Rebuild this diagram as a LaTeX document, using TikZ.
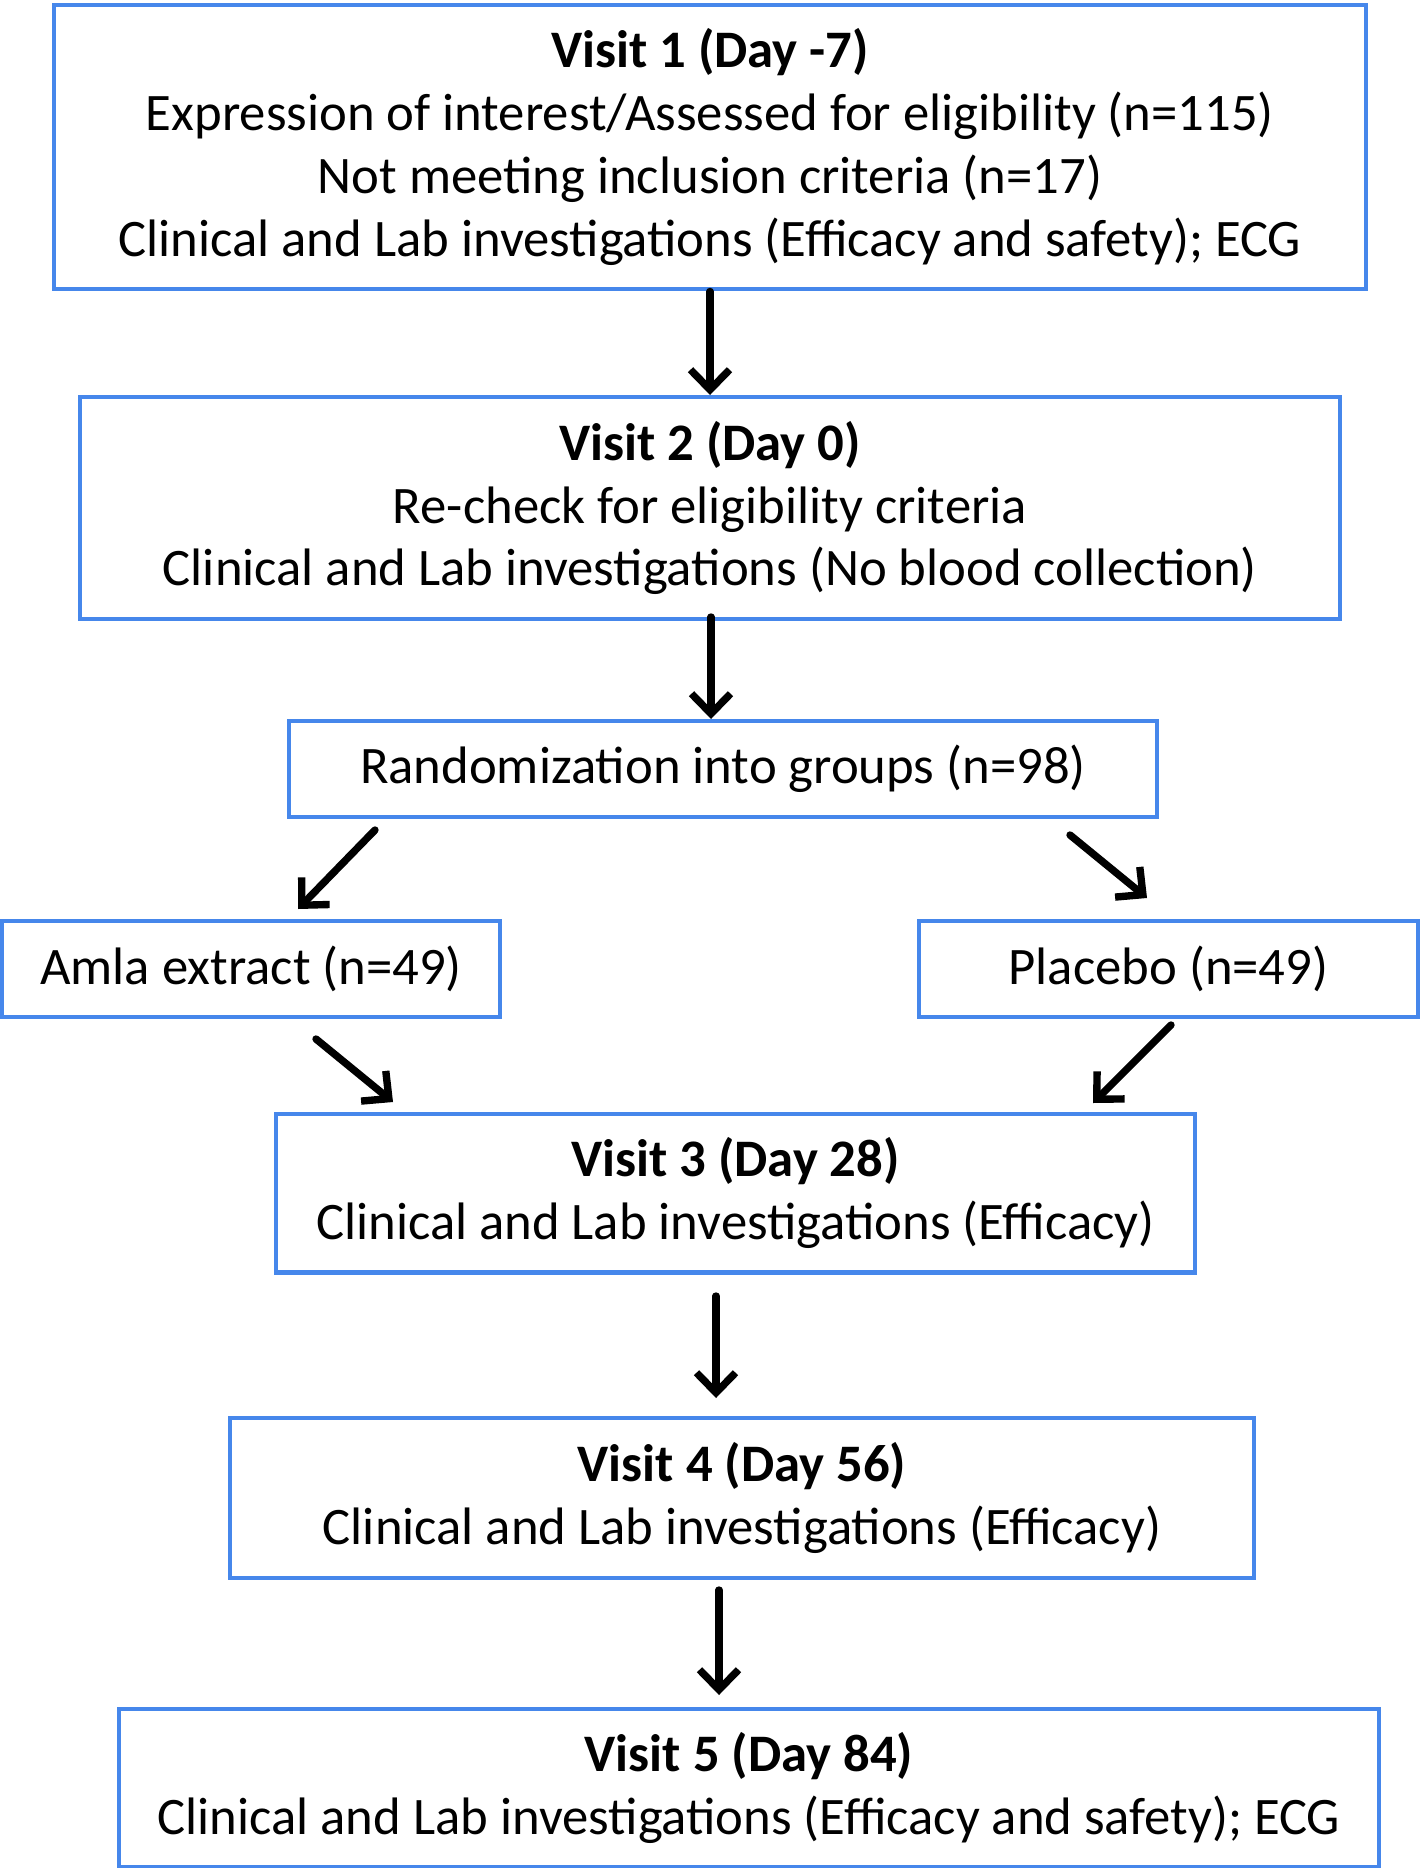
\documentclass[tikz,border=0pt]{standalone}
\usepackage{fontspec}
\setmainfont{Carlito}
\usetikzlibrary{arrows.meta}
\definecolor{boxblue}{RGB}{70,135,235}
\tikzset{
	box/.style={draw=boxblue, line width=2.3pt, inner sep=0pt, align=center, font=\fontsize{30}{35.7}\selectfont},
	arr/.style={-{Straight Barb[length=0.4cm, width=0.78cm]}, line width=4.2pt, line cap=round, line join=round}
}
\begin{document}
\begin{tikzpicture}[x=0.02cm,y=-0.02cm]
		\useasboundingbox (0,0) rectangle (1421,1868);
		
		\node[box, minimum width=26.24cm, minimum height=5.7cm] (v1) at (710,147) {\textbf{Visit 1 (Day -7)}\\Expression of interest/Assessed for eligibility (n=115)\\Not meeting inclusion criteria (n=17)\\Clinical and Lab investigations (Efficacy and safety); ECG};
		\node[box, minimum width=25.2cm, minimum height=4.44cm] (v2) at (710,508) {\textbf{Visit 2 (Day 0)}\\Re-check for eligibility criteria\\Clinical and Lab investigations (No blood collection)};
		\node[box, minimum width=17.36cm, minimum height=1.92cm] (rand) at (723,769) {Randomization into groups (n=98)};
		
		\node[box, minimum width=9.96cm, minimum height=1.92cm] (amla) at (251,969) {Amla extract (n=49)};
		\node[box, minimum width=9.98cm, minimum height=1.92cm] (plac) at (1168.5,969) {Placebo (n=49)};
		
		\node[box, minimum width=18.38cm, minimum height=3.18cm] (v3) at (735.5,1193) {\textbf{Visit 3 (Day 28)}\\Clinical and Lab investigations (Efficacy)};
		\node[box, minimum width=20.48cm, minimum height=3.2cm] (v4) at (742,1498) {\textbf{Visit 4 (Day 56)}\\Clinical and Lab investigations (Efficacy)};
		\node[box, minimum width=25.2cm, minimum height=3.16cm] (v5) at (749,1788) {\textbf{Visit 5 (Day 84)}\\Clinical and Lab investigations (Efficacy and safety); ECG};
		
		% free ends of the arrows
		\coordinate (a2s) at (711,617);
		\coordinate (a2e) at (711,719);
		\coordinate (d1s) at (375,830);
		\coordinate (d1e) at (298,909);
		\coordinate (d2s) at (1070,835);
		\coordinate (d2e) at (1147,898);
		\coordinate (d3s) at (316,1039);
		\coordinate (d3e) at (393,1102);
		\coordinate (d4s) at (1171,1025);
		\coordinate (d4e) at (1093,1103);
		\coordinate (a3s) at (716,1296);
		\coordinate (a3e) at (716,1398);
		\coordinate (a4s) at (719,1590);
		\coordinate (a4e) at (719,1695);
		
		\draw[arr] (v1.south) -- (v2.north);
		\draw[arr] (a2s) -- (a2e);
		\draw[arr] (d1s) -- (d1e);
		\draw[arr] (d2s) -- (d2e);
		\draw[arr] (d3s) -- (d3e);
		\draw[arr] (d4s) -- (d4e);
		\draw[arr] (a3s) -- (a3e);
		\draw[arr] (a4s) -- (a4e);
\end{tikzpicture}
\end{document}
